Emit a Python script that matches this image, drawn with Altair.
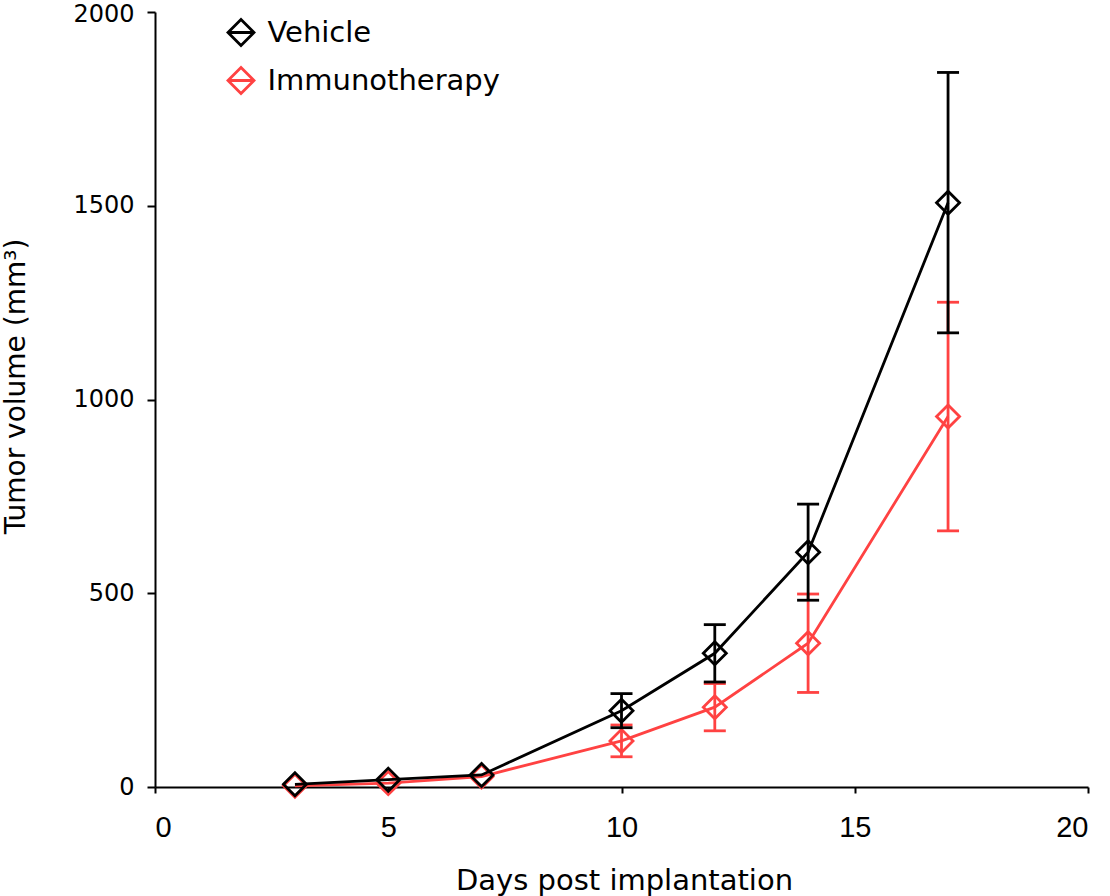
import altair as alt
import pandas as pd

# ---- data ----
days = [3, 5, 7, 10, 12, 14, 17]
vehicle_mean = [7, 19, 31, 197, 345, 606, 1508]
vehicle_err = [0, 0, 0, 44, 74, 124, 336]
immuno_mean = [3, 10, 27, 119, 206, 371, 956]
immuno_err = [0, 0, 0, 41, 61, 127, 295]
series_names = ["Vehicle", "Immunotherapy"]
series_colors = ["#000000", "#ff4242"]
x_ticks = [0, 5, 10, 15, 20]
y_ticks = [0, 500, 1000, 1500, 2000]

rows = []
for name, means, errs in [("Vehicle", vehicle_mean, vehicle_err),
                          ("Immunotherapy", immuno_mean, immuno_err)]:
    for d, m, e in zip(days, means, errs):
        rows.append({"group": name, "day": d, "mean": m, "lo": m - e, "hi": m + e, "err": e})
df = pd.DataFrame(rows)

x_scale = alt.Scale(domain=[0, 20], nice=False, zero=False)
y_scale = alt.Scale(domain=[0, 2000], nice=False)

x_axis = alt.Axis(values=x_ticks, grid=False, tickSize=6, tickWidth=2, tickColor="black",
                  domainWidth=2, domainColor="black", labelFont="Liberation Sans",
                  labelFontSize=29, labelColor="black", labelPadding=20, format="d",
                  titleFont="DejaVu Sans", titleFontSize=29, titleFontWeight="normal",
                  titleColor="black", titleX=469, titleY=102, titleBaseline="alphabetic",
                  titleAlign="center")
y_axis = alt.Axis(values=y_ticks, grid=False, tickSize=8, tickWidth=2, tickColor="black",
                  domainWidth=2, domainColor="black", labelFont="DejaVu Sans",
                  labelFontSize=24, labelColor="black", labelPadding=13, format="d",
                  labelOffset={"condition": {"test": "datum.value >= 2000", "value": 2},
                               "value": 0},
                  titleFont="DejaVu Sans", titleFontSize=28, titleFontWeight="normal",
                  titleColor="black", titleAngle=270, titleX=-139, titleY=374,
                  titleBaseline="middle", titleAlign="center")

X = alt.X("day:Q", scale=x_scale, axis=x_axis, title="Days post implantation")
Y_TITLE = "Tumor volume (mm³)"


def ycol(field):
    return alt.Y(f"{field}:Q", scale=y_scale, axis=y_axis, title=Y_TITLE)


legend = alt.Legend(orient="none", legendX=71.5, legendY=6, title=None,
                    symbolType="M-1,0L0,-1L1,0L0,1Z M-1,0L1,0", symbolSize=676,
                    symbolStrokeWidth=2.8, labelFont="DejaVu Sans", labelFontSize=29,
                    labelColor="black", labelOffset=12, rowPadding=9, padding=0,
                    symbolOffset=0, labelLimit=1000)

color_enc = alt.Color("group:N", scale=alt.Scale(domain=series_names, range=series_colors),
                      legend=legend)

LW = 2.8


def series_layers(idx):
    name = series_names[idx]
    col = series_colors[idx]
    base = alt.Chart(df).transform_filter(alt.datum.group == name)
    errs = base.transform_filter("datum.err > 0")
    rule = errs.mark_rule(strokeWidth=LW, color=col).encode(x=X, y=ycol("lo"), y2="hi:Q")
    cap_hi = errs.mark_tick(orient="horizontal", size=22, thickness=LW, color=col,
                            opacity=1).encode(x=X, y=ycol("hi"))
    cap_lo = errs.mark_tick(orient="horizontal", size=22, thickness=LW, color=col,
                            opacity=1).encode(x=X, y=ycol("lo"))
    line = base.mark_line(strokeWidth=LW, color=col).encode(x=X, y=ycol("mean"))
    pts = base.mark_point(shape="diamond", size=530, strokeWidth=LW, filled=False,
                          opacity=1).encode(x=X, y=ycol("mean"), color=color_enc)
    return [rule, cap_hi, cap_lo, line, pts]


chart = alt.layer(
    *series_layers(1),
    *series_layers(0),
).properties(
    width=933, height=775,
    autosize=alt.AutoSizeParams(type="none"),
    padding={"left": 155, "top": 12, "right": 22, "bottom": 109},
    background="white",
).configure_view(stroke=None)

chart.save("out.html", embed_options={"renderer": "svg", "actions": False})
